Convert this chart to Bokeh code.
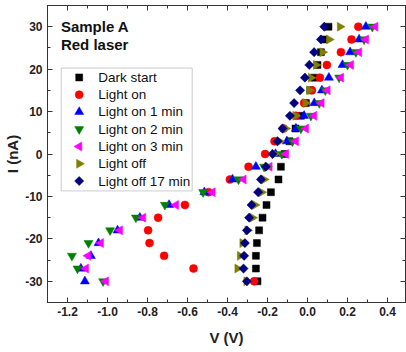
import numpy as np
from bokeh.plotting import figure
from bokeh.models import Range1d, FixedTicker, LinearAxis, Label, BoxAnnotation
from bokeh.embed import file_html
from bokeh.resources import INLINE

# ---------------- data ----------------
current_nA = [30, 27, 24, 21, 18, 15, 12, 9, 6, 3, 0, -3, -6, -9, -12, -15, -18, -21, -24, -27, -30]

dark_start = [0.105, 0.083, 0.067, 0.050, 0.033, 0.014, -0.008, -0.033, -0.060, -0.090, -0.115,
              -0.133, -0.145, -0.183, -0.205, -0.225, -0.242, -0.253, -0.258, -0.258, -0.250]
light_on = [0.254, 0.220, 0.167, 0.097, 0.062, 0.022, -0.017, -0.058, -0.120, -0.165, -0.212,
            -0.295, -0.388, -0.495, -0.613, -0.747, -0.797, -0.790, -0.717, -0.570, -0.267]
light_on_1min = [0.292, 0.258, 0.213, 0.175, 0.107, 0.072, 0.034, -0.017, -0.058, -0.103, -0.160,
                 -0.258, -0.375, -0.516, -0.692, -0.838, -0.950, -1.045, -1.083, -1.133, -1.113]
light_on_2min = [0.324, 0.283, 0.242, 0.200, 0.158, 0.089, 0.059, 0.017, -0.033, -0.075, -0.128,
                 -0.217, -0.345, -0.522, -0.713, -0.858, -0.987, -1.095, -1.178, -1.150, -1.022]
light_on_3min = [0.339, 0.292, 0.258, 0.217, 0.167, 0.100, 0.070, 0.033, -0.008, -0.058, -0.108,
                 -0.190, -0.320, -0.475, -0.658, -0.822, -0.938, -1.033, -1.097, -1.108, -1.008]
light_off = [0.162, 0.108, 0.075, 0.042, 0.017, 0.009, -0.010, -0.060, -0.110, -0.140, -0.165,
             -0.200, -0.217, -0.230, -0.263, -0.275, -0.300, -0.325, -0.338, -0.350, -0.305]
light_off_17min = [0.084, 0.067, 0.033, 0.009, -0.013, -0.037, -0.067, -0.088, -0.125, -0.150, -0.175,
                   -0.208, -0.233, -0.247, -0.280, -0.292, -0.303, -0.313, -0.317, -0.320, -0.303]

series_names = ["Dark start", "Light on", "Light on 1 min", "Light on 2 min",
                "Light on 3 min", "Light off", "Light off 17 min"]
series_values = [dark_start, light_on, light_on_1min, light_on_2min,
                 light_on_3min, light_off, light_off_17min]

x_ticks = [-1.2, -1.0, -0.8, -0.6, -0.4, -0.2, 0.0, 0.2, 0.4]
x_tick_labels = ["-1.2", "-1.0", "-0.8", "-0.6", "-0.4", "-0.2", "0.0", "0.2", "0.4"]
y_ticks = [-30, -20, -10, 0, 10, 20, 30]
y_tick_labels = ["-30", "-20", "-10", "0", "10", "20", "30"]

x_title = "V (V)"
y_title = "I (nA)"
annotations = ["Sample A", "Red laser"]

# ---------------- styles ----------------
styles = [
    dict(marker="square", color="#000000", size=7, angle=0.0),
    dict(marker="circle", color="#FF0000", size=8, angle=0.0),
    dict(marker="triangle", color="#0000FF", size=9, angle=0.0),
    dict(marker="inverted_triangle", color="#008000", size=9, angle=0.0),
    dict(marker="triangle", color="#FF00FF", size=9, angle=np.pi / 2),
    dict(marker="triangle", color="#808000", size=9, angle=-np.pi / 2),
    dict(marker="square", color="#000080", size=6.5, angle=np.pi / 4),
]

FONT = "Liberation Sans"

p = figure(width=406, height=352, output_backend="svg", toolbar_location=None,
           x_range=Range1d(-1.3, 0.49), y_range=Range1d(-35, 35),
           min_border_left=47, min_border_right=1, min_border_top=5, min_border_bottom=50,
           background_fill_color="white", border_fill_color="white")
p.grid.visible = False
p.outline_line_color = "#333333"
p.outline_line_width = 1

x_minor = [round(v, 2) for v in np.arange(-1.3, 0.5, 0.1)]
y_minor = list(range(-35, 36, 5))


def style_axis(ax, ticks, minor, labels, show_labels):
    ax.ticker = FixedTicker(ticks=ticks, minor_ticks=minor)
    ax.major_label_overrides = {t: l for t, l in zip(ticks, labels)}
    ax.axis_line_color = "#333333"
    ax.major_tick_line_color = "#333333"
    ax.minor_tick_line_color = "#333333"
    ax.major_tick_in = 5
    ax.major_tick_out = 0
    ax.minor_tick_in = 3
    ax.minor_tick_out = 0
    ax.major_label_text_font = FONT
    ax.major_label_text_font_style = "bold"
    ax.major_label_text_font_size = "12px"
    ax.major_label_text_color = "#222222"
    ax.axis_label_text_font = FONT
    ax.axis_label_text_font_style = "bold"
    ax.axis_label_text_font_size = "15px"
    ax.axis_label_text_color = "#222222"
    if not show_labels:
        ax.major_label_text_font_size = "0px"
        ax.major_label_text_alpha = 0
        ax.major_label_standoff = 0


xa = p.xaxis[0]
style_axis(xa, x_ticks, x_minor, x_tick_labels, True)
xa.major_label_standoff = 4
xa.axis_label = x_title
xa.axis_label_standoff = 10

ya = p.yaxis[0]
style_axis(ya, y_ticks, y_minor, y_tick_labels, True)
ya.major_label_standoff = 5
ya.axis_label = y_title
ya.axis_label_standoff = 1

top_ax = LinearAxis()
style_axis(top_ax, x_ticks, x_minor, x_tick_labels, False)
p.add_layout(top_ax, "above")
right_ax = LinearAxis()
style_axis(right_ax, y_ticks, y_minor, y_tick_labels, False)
p.add_layout(right_ax, "right")

# data series
for vals, st in zip(series_values, styles):
    p.scatter(x=vals, y=current_nA, marker=st["marker"], size=st["size"], angle=st["angle"],
              fill_color=st["color"], line_color=st["color"], line_width=0.5)

# "Sample A" / "Red laser" (placed in data units so they follow the axes)
ann_x, ann_y0, ann_dy = -1.233, 30.1, 4.35
for i, t in enumerate(annotations):
    p.add_layout(Label(x=ann_x, y=ann_y0 - ann_dy * i, text=t,
                       text_font=FONT, text_font_style="bold", text_font_size="15px",
                       text_baseline="middle", text_color="#111111"))

# legend (laid out in data units)
LG_LEFT, LG_RIGHT, LG_TOP, LG_BOTTOM = -1.2315, -0.5765, 20.25, -8.7
p.add_layout(BoxAnnotation(left=LG_LEFT, right=LG_RIGHT, top=LG_TOP, bottom=LG_BOTTOM,
                           fill_color="white", fill_alpha=1.0,
                           line_color="#555555", line_width=1, level="underlay"))
first_center, pitch = 18.05, 4.07
marker_x, text_x = -1.1415, -1.0465
for i, (name, st) in enumerate(zip(series_names, styles)):
    yy = first_center - pitch * i
    p.scatter(x=[marker_x], y=[yy], marker=st["marker"], size=st["size"], angle=st["angle"],
              fill_color=st["color"], line_color=st["color"], line_width=0.5)
    p.add_layout(Label(x=text_x, y=yy, text=name,
                       text_font=FONT, text_font_size="13.5px",
                       text_baseline="middle", text_color="#111111"))

open("out.html", "w").write(file_html(p, INLINE))
